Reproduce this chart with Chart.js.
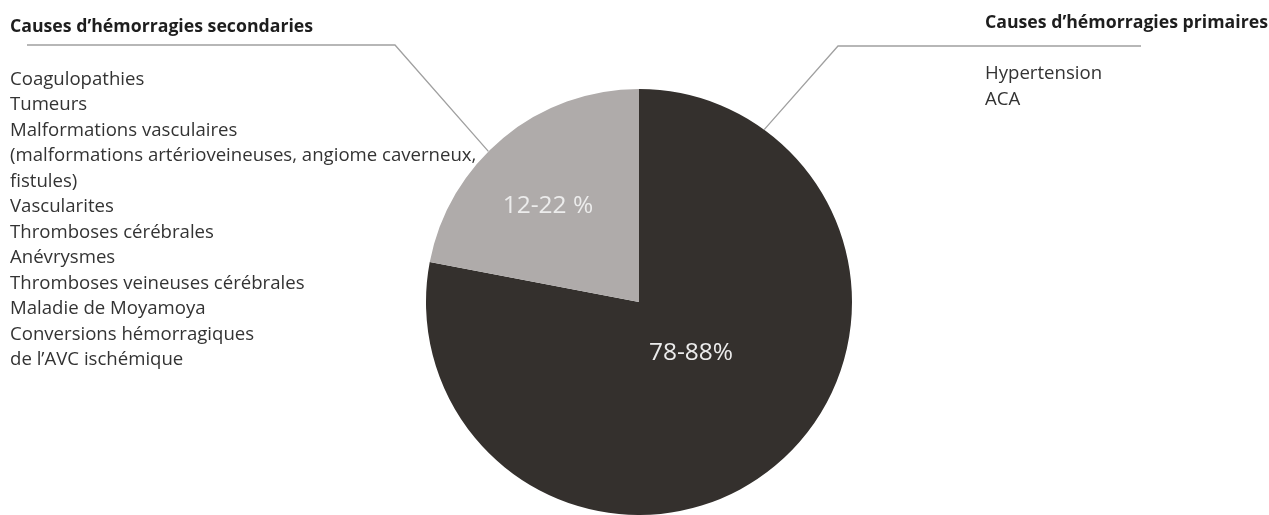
<!DOCTYPE html>
<html>
<head>
<meta charset="utf-8">
<script src="https://cdn.jsdelivr.net/npm/chart.js@4/dist/chart.umd.min.js"></script>
<style>
html,body{margin:0;padding:0;background:#fff;}
#wrap{width:1269px;height:515px;position:relative;}
</style>
</head>
<body>
<div id="wrap"><canvas id="c" width="1269" height="515"></canvas></div>
<script>
const categories = ["Causes d\u2019hémorragies primaires", "Causes d\u2019hémorragies secondaries"];
const values = [78, 22];
const sliceLabels = ["78-88%", "12-22 %"];
const colors = ["#34302d", "#afabaa"];
const secondaryCauses = [
  "Coagulopathies",
  "Tumeurs",
  "Malformations vasculaires",
  "(malformations artérioveineuses, angiome caverneux,",
  "fistules)",
  "Vascularites",
  "Thromboses cérébrales",
  "Anévrysmes",
  "Thromboses veineuses cérébrales",
  "Maladie de Moyamoya",
  "Conversions hémorragiques",
  "de l\u2019AVC ischémique"
];
const primaryCauses = ["Hypertension", "ACA"];

const FONT = "'Open Sans', Lato, sans-serif";

const annotate = {
  id: 'annotate',
  afterDatasetsDraw(chart) {
    const ctx = chart.ctx;
    const meta = chart.getDatasetMeta(0);
    // slice value labels
    const labelSize = 24.5;
    const labelPos = [{frac: 0.337, dAng: -6.8}, {frac: 0.628, dAng: -3.3}];
    meta.data.forEach((arc, i) => {
      const p = arc.getProps(['x','y','startAngle','endAngle','outerRadius'], true);
      const mid = (p.startAngle + p.endAngle) / 2 + labelPos[i].dAng * Math.PI / 180;
      const r = p.outerRadius * labelPos[i].frac;
      ctx.save();
      ctx.fillStyle = "#ececec";
      ctx.font = labelSize + "px " + FONT;
      ctx.textAlign = "center";
      ctx.textBaseline = "alphabetic";
      ctx.fillText(sliceLabels[i], p.x + Math.cos(mid) * r, p.y + Math.sin(mid) * r + 0.357 * labelSize);
      ctx.restore();
    });

    // leader lines
    const arc0 = meta.data[0].getProps(['x','y','outerRadius'], true);
    const edge = (deg) => [arc0.x + Math.cos(deg*Math.PI/180)*arc0.outerRadius, arc0.y + Math.sin(deg*Math.PI/180)*arc0.outerRadius];
    ctx.save();
    ctx.strokeStyle = "#a0a0a0";
    ctx.lineWidth = 1.3;
    const eL = edge(225);
    ctx.beginPath();
    ctx.moveTo(27, 45);
    ctx.lineTo(395, 45);
    ctx.lineTo(eL[0], eL[1]);
    ctx.stroke();
    const eR = edge(-54);
    ctx.beginPath();
    ctx.moveTo(1141, 46);
    ctx.lineTo(838, 46);
    ctx.lineTo(eR[0], eR[1]);
    ctx.stroke();
    ctx.restore();

    // annotation texts
    ctx.save();
    ctx.textBaseline = "alphabetic";
    ctx.textAlign = "left";
    ctx.fillStyle = "#1e1e1e";
    ctx.font = "bold 17.7px " + FONT;
    ctx.fillText(categories[1], 10, 32);
    ctx.fillText(categories[0], 985, 28);
    ctx.fillStyle = "#333333";
    ctx.font = "18.6px " + FONT;
    secondaryCauses.forEach((t, i) => ctx.fillText(t, 10, 85 + i * 25.45));
    primaryCauses.forEach((t, i) => ctx.fillText(t, 985, 79 + i * 26));
    ctx.restore();
  }
};

new Chart(document.getElementById('c'), {
  type: 'pie',
  data: {
    labels: categories,
    datasets: [{
      data: values,
      backgroundColor: colors,
      borderWidth: 0
    }]
  },
  options: {
    responsive: false,
    animation: false,
    layout: {padding: {top: 89, bottom: 0, left: 9, right: 0}},
    plugins: {legend: {display: false}, tooltip: {enabled: false}}
  },
  plugins: [annotate]
});
</script>
</body>
</html>
